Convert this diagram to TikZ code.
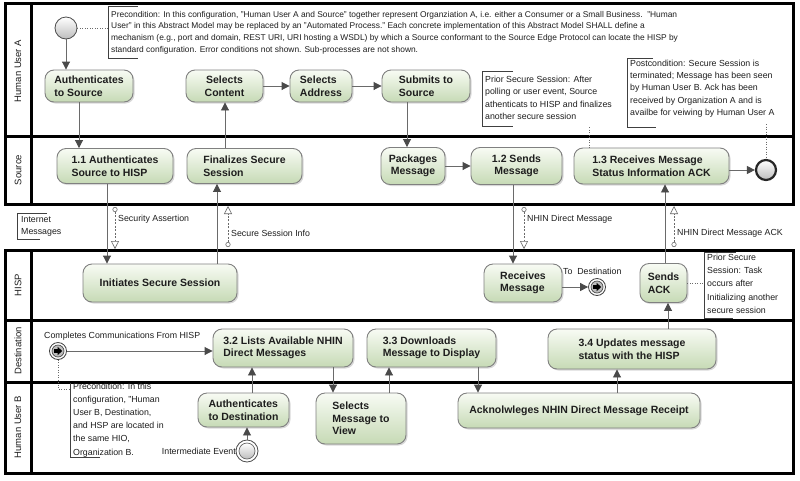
\documentclass[tikz,border=0pt]{standalone}
\usepackage{fontspec}
\setmainfont{Liberation Sans}
\usetikzlibrary{arrows.meta,shadows}
\definecolor{boxtop}{HTML}{F8FBF4}
\definecolor{boxbot}{HTML}{C6DAB5}
\definecolor{boxdraw}{HTML}{808080}
\definecolor{flowc}{HTML}{6A6A6A}
\definecolor{tipc}{HTML}{4A4A4A}
\definecolor{txt}{HTML}{1E1E1E}
\definecolor{evgray}{HTML}{BDBDBD}
\begin{document}
\begin{tikzpicture}[x=1pt,y=-1pt,
  pool/.style={draw=black, line width=3pt},
  lane/.style={rotate=90, font=\fontsize{9.5}{11}\selectfont, text=txt, inner sep=0pt},
  task/.style={draw=boxdraw, line width=0.9pt, rounded corners=9pt, top color=boxtop, bottom color=boxbot,
    drop shadow={shadow xshift=1.5pt, shadow yshift=-1.5pt, opacity=0.3},
    font=\bfseries\fontsize{10.5}{12.5}\selectfont, text=txt, inner sep=0pt, align=left},
  ctask/.style={task, align=center},
  note/.style={font=\fontsize{8.8}{11.7}\selectfont, text=txt, inner sep=0pt, align=left, anchor=north west},
  lbl/.style={font=\fontsize{8.8}{11}\selectfont, text=txt, inner sep=0pt},
  bracket/.style={draw=black!75, line width=0.7pt},
  flowarr/.style={draw=flowc, line width=0.9pt, -{Triangle[length=8pt,width=8pt,color=tipc]}},
  msg/.style={draw=flowc, line width=0.6pt, dash pattern=on 2pt off 1.5pt,
    {Circle[open,length=5pt,width=5pt,fill=white]}-{Triangle[open,length=8pt,width=8pt,fill=white]}},
  assoc/.style={draw=flowc, line width=0.7pt, dash pattern=on 1pt off 1.5pt},
  startev/.style={circle, draw=black!70, line width=0.8pt, top color=white, bottom color=evgray, minimum size=22pt, inner sep=0pt},
  endev/.style={circle, draw=black!85, line width=2.2pt, top color=white, bottom color=evgray, minimum size=20pt, inner sep=0pt},
  linkev/.style={circle, draw=black!75, line width=0.8pt, fill=white, minimum size=17pt, inner sep=0pt},
  midev/.style={circle, draw=black!70, line width=0.8pt, fill=white, minimum size=22pt, inner sep=0pt}
]
\path[use as bounding box] (0,0) rectangle (800,480);
\fill[white] (0,0) rectangle (800,480);

% ---------- pools and lanes
\draw[pool] (5,3) rectangle (793,204);
\draw[pool] (5,136) -- (793,136);
\draw[pool] (31,3) -- (31,204);
\draw[pool] (5,250) rectangle (793,473);
\draw[pool] (5,320) -- (793,320);
\draw[pool] (5,382) -- (793,382);
\draw[pool] (31,250) -- (31,473);

\node[lane] (laneA) at (18,71) {Human User A};
\node[lane] (laneS) at (18,170) {Source};
\node[lane] (laneH) at (18,285) {HISP};
\node[lane] (laneD) at (18,351) {Destination};
\node[lane] (laneB) at (18,427) {Human User B};

% ---------- Human User A lane
\node[startev] (startA) at (66,28) {};
\node[task, minimum width=88pt, minimum height=32pt] (authA) at (89,86) {Authenticates\\to Source};
\node[ctask, minimum width=77pt, minimum height=32pt] (selC) at (224.5,86) {Selects\\Content};
\node[task, minimum width=62pt, minimum height=32pt] (selA) at (321,86) {Selects\\Address};
\node[task, minimum width=88pt, minimum height=32pt] (subS) at (426,86) {Submits to\\Source};

\node[note, font=\fontsize{8.4}{11.7}\selectfont] (preA) at (111,11) {Precondition: In this configuration, "Human User A and Source" together represent Organziation A, i.e. either a Consumer or a Small Business.\ \ "Human\\
User" in this Abstract Model may be replaced by an "Automated Process." Each concrete implementation of this Abstract Model SHALL define a\\
mechanism (e.g., port and domain, REST URI, URI hosting a WSDL) by which a Source conformant to the Source Edge Protocol can locate the HISP by\\
standard configuration. Error conditions not shown. Sub-processes are not shown.};
\draw[bracket] (138,6) -- (108,6) -- (108,58) -- (138,58);

\node[note, font=\fontsize{8.8}{12.3}\selectfont] (priorA) at (485,76) {Prior Secure Session: After\\polling or user event, Source\\athenticats to HISP and finalizes\\another secure session};
\draw[bracket] (513,71) -- (482,71) -- (482,126) -- (513,126);

\node[note, font=\fontsize{8.8}{12.2}\selectfont] (postA) at (630,60) {Postcondition: Secure Session is\\terminated; Message has been seen\\by Human User B. Ack has been\\received by Organization A and is\\availbe for veiwing by Human User A};
\draw[bracket] (653,58) -- (627,58) -- (627,127) -- (656,127);

% ---------- Source lane
\node[task, minimum width=116pt, minimum height=35pt] (s11) at (115,166) {1.1 Authenticates\\Source to HISP};
\node[task, minimum width=115pt, minimum height=35pt] (fin) at (244.5,166) {Finalizes Secure\\Session};
\node[ctask, minimum width=64pt, minimum height=37pt] (pack) at (413,166) {Packages\\Message};
\node[ctask, minimum width=91pt, minimum height=37pt] (s12) at (516.5,166) {1.2 Sends\\Message};
\node[task, minimum width=155pt, minimum height=36pt] (s13) at (651.5,166) {1.3 Receives Message\\Status Information ACK};
\node[endev] (endA) at (766,170) {};

% ---------- Internet messages
\node[lbl, align=left, anchor=north west, font=\fontsize{8.8}{12.5}\selectfont] (inet) at (21,216) {Internet\\Messages};
\draw[bracket] (47,213) -- (17,213) -- (17,239) -- (40,239);

% ---------- HISP lane
\node[ctask, minimum width=154pt, minimum height=38pt] (initS) at (160,283) {Initiates Secure Session};
\node[task, minimum width=78pt, minimum height=38pt] (recv) at (523,283) {Receives\\Message};
\node[linkev] (toDest) at (597,287) {};
\node[lbl, anchor=west] (toDestL) at (563,271) {To\ \ Destination};
\node[task, minimum width=47pt, minimum height=39pt] (ack) at (663.5,283) {Sends\\ACK};
\node[note, font=\fontsize{8.8}{13.2}\selectfont] (priorH) at (707,254) {Prior Secure\\Session: Task\\occurs after\\Initializing another\\secure session};
\draw[bracket] (736,252) -- (704,252) -- (704,318) -- (733,318);

% ---------- Destination lane
\node[linkev] (startD) at (58,351) {};
\node[lbl, anchor=west] (startDL) at (44,336) {Completes Communications From HISP};
\node[task, minimum width=140pt, minimum height=38pt] (s32) at (283,348) {3.2 Lists Available NHIN\\Direct Messages};
\node[task, minimum width=129pt, minimum height=38pt] (s33) at (431.5,348) {3.3 Downloads\\Message to Display};
\node[task, minimum width=168pt, minimum height=40pt] (s34) at (632,349) {3.4 Updates message\\status with the HISP};

% ---------- Human User B lane
\node[task, minimum width=91pt, minimum height=34pt] (authD) at (243.5,410) {Authenticates\\to Destination};
\node[task, minimum width=90pt, minimum height=51pt] (selM) at (361,418.5) {Selects\\Message to\\View};
\node[ctask, minimum width=242pt, minimum height=35pt] (ackR) at (579,410.5) {Acknolwleges NHIN Direct Message Receipt};
\node[midev] (interm) at (247,451) {};
\draw[draw=black!60, line width=0.7pt, top color=white, bottom color=evgray] (interm) circle (8pt);
\node[lbl, anchor=east] (intermL) at (236,451) {Intermediate Event};
\node[note, font=\fontsize{8.8}{13.1}\selectfont] (preB) at (73,383) {Precondition: In this\\configuration, "Human\\User B, Destination,\\and HSP are located in\\the same HIO,\\Organization B.};
\draw[bracket] (70,383) -- (70,457) -- (100,457);

% link event glyphs
\foreach \ev in {toDest,startD}{
  \draw[draw=black!70, line width=0.7pt, fill=evgray] (\ev) circle (6pt);
  \fill[black] ([xshift=-4pt,yshift=-1.8pt]\ev.center) -- ++(3.6pt,0) -- ++(0,-2.4pt) -- ++(4.6pt,4.2pt) -- ++(-4.6pt,4.2pt) -- ++(0,-2.4pt) -- ++(-3.6pt,0) -- cycle;
}

% ---------- sequence flows
\draw[flowarr] (startA) -- (startA |- authA.north);
\draw[flowarr] (authA.south -| 79,0) -- (s11.north -| 79,0);
\draw[flowarr] (s11.south -| 107,0) -- (initS.north -| 107,0);
\draw[flowarr] (initS.north -| 217,0) -- (fin.south -| 217,0);
\draw[flowarr] (fin.north -| 225,0) -- (selC.south -| 225,0);
\draw[flowarr] (selC) -- (selA);
\draw[flowarr] (selA) -- (subS);
\draw[flowarr] (subS.south -| 407,0) -- (pack.north -| 407,0);
\draw[flowarr] (pack) -- (s12);
\draw[flowarr] (s12.south -| 513,0) -- (recv.north -| 513,0);
\draw[flowarr] (recv.east |- toDest) -- (toDest);
\draw[flowarr] (ack.north -| 665,0) -- (s13.south -| 665,0);
\draw[flowarr] (s13.east |- endA) -- (endA);
\draw[flowarr] (startD) -- (s32.west |- startD);
\draw[flowarr] (interm) -- (interm |- authD.south);
\draw[flowarr] (authD.north -| 252,0) -- (s32.south -| 252,0);
\draw[flowarr] (s32.south -| 333,0) -- (selM.north -| 333,0);
\draw[flowarr] (selM.north -| 389,0) -- (s33.south -| 389,0);
\draw[flowarr] (s33.south -| 478,0) -- (ackR.north -| 478,0);
\draw[flowarr] (ackR.north -| 617,0) -- (s34.south -| 617,0);
\draw[flowarr] (s34.north -| 668,0) -- (ack.south -| 668,0);

% ---------- message flows
\coordinate (m1a) at (115,207); \coordinate (m1b) at (115,249);
\coordinate (m2a) at (228,247); \coordinate (m2b) at (228,206);
\coordinate (m3a) at (524,207); \coordinate (m3b) at (524,249);
\coordinate (m4a) at (674,247); \coordinate (m4b) at (674,206);
\draw[msg] (m1a) -- (m1b);
\draw[msg] (m2a) -- (m2b);
\draw[msg] (m3a) -- (m3b);
\draw[msg] (m4a) -- (m4b);
\node[lbl, anchor=west] (m1l) at (118,219) {Security Assertion};
\node[lbl, anchor=west] (m2l) at (231,233) {Secure Session Info};
\node[lbl, anchor=west] (m3l) at (527,219) {NHIN Direct Message};
\node[lbl, anchor=west] (m4l) at (677,233) {NHIN Direct Message ACK};

% ---------- associations
\draw[assoc] (startA.east) -- (108,28);
\draw[assoc] (589,127) -- (s13.north -| 589,0);
\draw[assoc] (766,124) -- (endA.north);
\draw[assoc] (ack.east) -- (704,283);
\draw[assoc] (startD.south) -- (58,389) -- (70,389);
\end{tikzpicture}
\end{document}
